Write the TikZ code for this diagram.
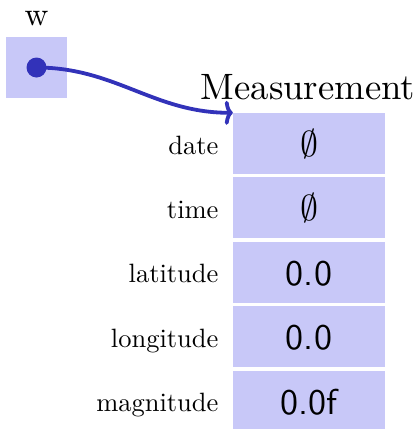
\documentclass[tikz,border=0pt]{standalone}
\usetikzlibrary{arrows.meta}
\definecolor{cellfill}{RGB}{200,200,248}
\definecolor{ptr}{RGB}{50,50,185}
\tikzset{
  cell/.style={fill=cellfill, draw=none, inner sep=0pt, minimum width=152pt, minimum height=61pt},
  fieldlabel/.style={anchor=base east, inner sep=0pt, scale=2.65},
  val/.style={anchor=base, inner sep=0pt, scale=3.6, font=\sffamily},
  nullval/.style={anchor=base, inner sep=0pt, scale=3.6},
}
\begin{document}
\begin{tikzpicture}[x=1pt,y=-1pt]
\useasboundingbox (0,0) rectangle (420,429);
% variable w
\node[fill=cellfill, minimum width=61pt, minimum height=61pt, inner sep=0pt] (wbox) at (36.5,67.5) {};
\node[anchor=base, inner sep=0pt, scale=3.3] (wlab) at (36.5,25) {w};
\node[circle, fill=ptr, minimum size=20pt, inner sep=0pt] (dot) at (36.5,67.5) {};
% record
\node[anchor=base, inner sep=0pt, scale=3.67] (title) at (308,99) {Measurement};
\node[cell] (c1) at (309,143.5) {};
\node[cell] (c2) at (309,207.9) {};
\node[cell] (c3) at (309,272.3) {};
\node[cell] (c4) at (309,336.7) {};
\node[cell] (c5) at (309,401.1) {};
\node[nullval] (v1) at (309,156.5) {$\emptyset$};
\node[nullval] (v2) at (309,220.9) {$\emptyset$};
\node[val] (v3) at (309,285.3) {0.0};
\node[val] (v4) at (309,349.7) {0.0};
\node[val] (v5) at (309,414.1) {0.0f};
\node[fieldlabel] (l1) at (219,154) {date};
\node[fieldlabel] (l2) at (219,218.4) {time};
\node[fieldlabel] (l3) at (219,282.8) {latitude};
\node[fieldlabel] (l4) at (219,347.2) {longitude};
\node[fieldlabel] (l5) at (219,411.6) {magnitude};
% pointer
\draw[ptr, line width=3.8pt, line cap=round, -{To[length=8pt,width=24pt]}] (dot.center) to[out=0,in=180] (c1.north west);
\end{tikzpicture}
\end{document}
